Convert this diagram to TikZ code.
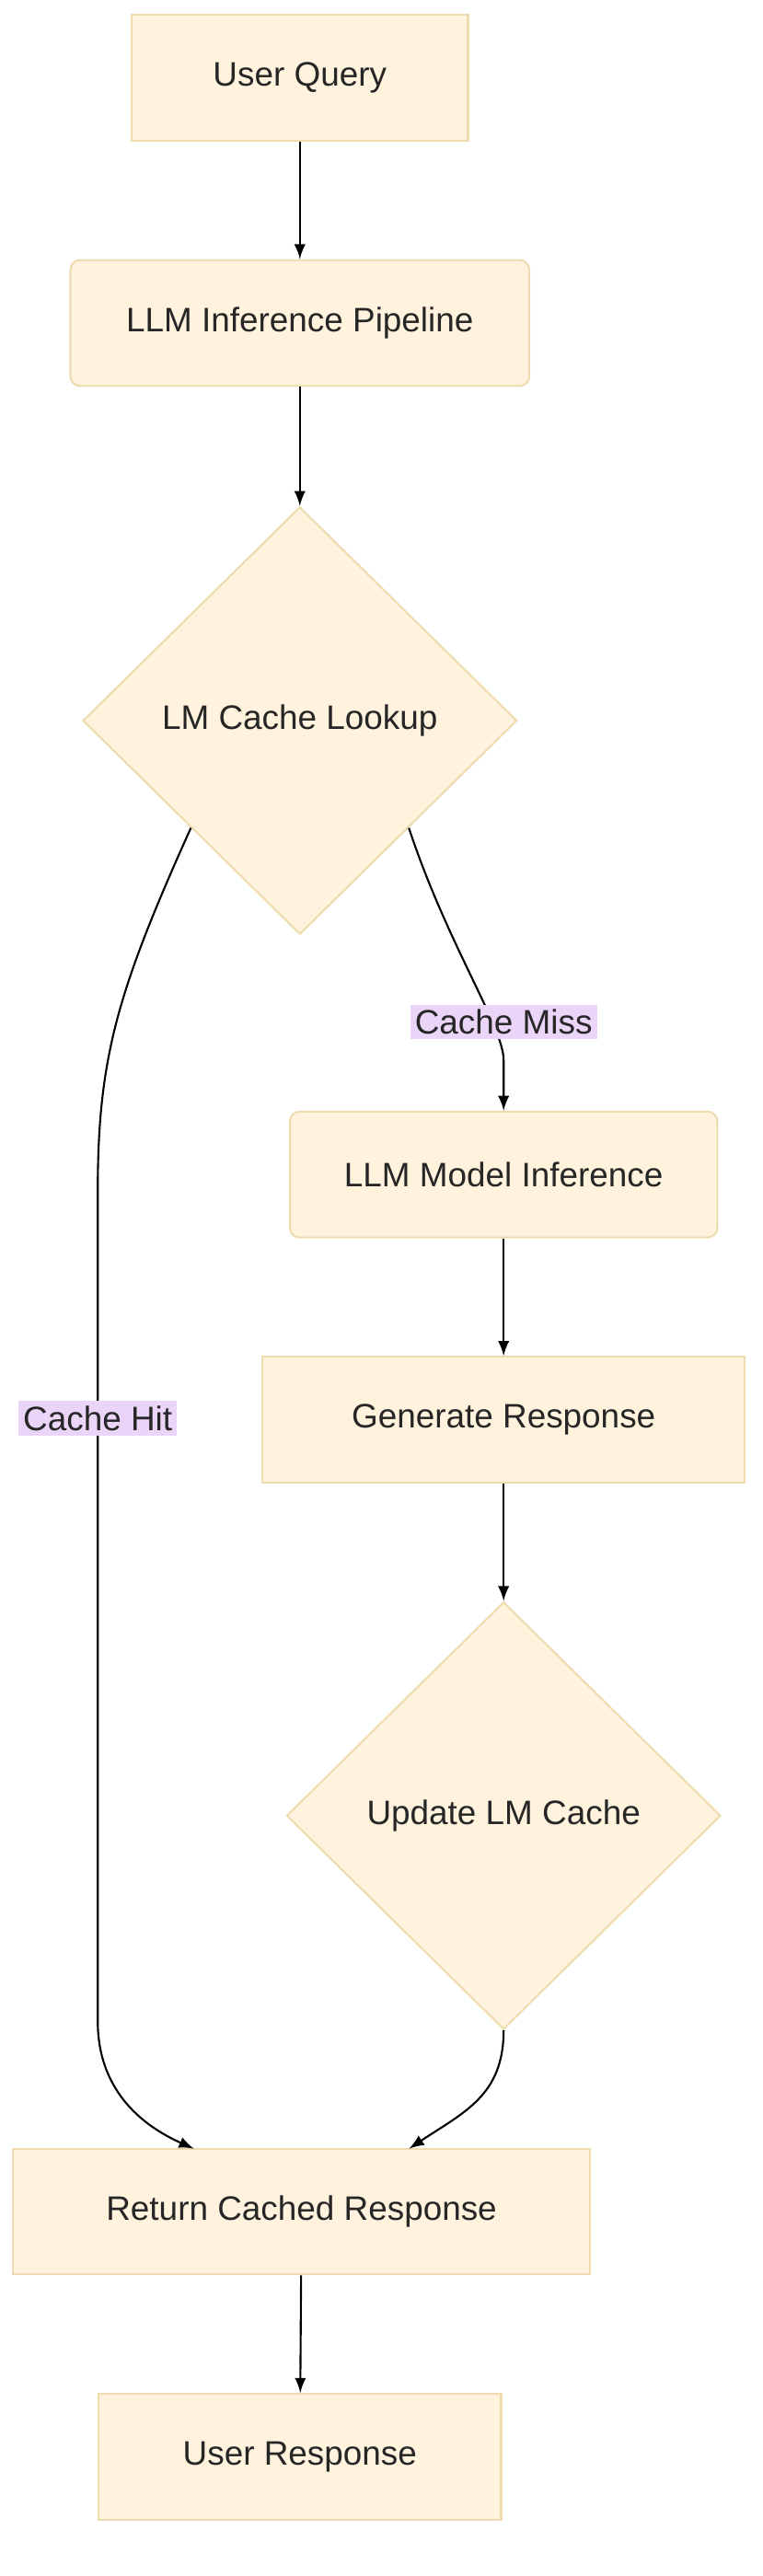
\documentclass[tikz,border=0pt]{standalone}
\usepackage{fontspec}
\setmainfont{Liberation Sans}
\usetikzlibrary{shapes.geometric}
\definecolor{boxfill}{HTML}{FFF3DE}
\definecolor{boxline}{HTML}{EEDCB0}
\definecolor{lblfill}{HTML}{EAD5F8}
\tikzset{
	box/.style={draw=boxline,fill=boxfill,line width=.6pt,minimum height=76*0.018cm,font=\fontsize{10.5}{12}\selectfont,text=black!85},
	rbox/.style={box,rounded corners=3pt},
	dia/.style={box,diamond,minimum width=262*0.018cm,minimum height=258*0.018cm,inner sep=0pt},
	lbl/.style={fill=lblfill,inner sep=1.5pt,font=\fontsize{10.5}{12}\selectfont,text=black!85},
	edge/.style={->,line width=.6pt,black}
}
\begin{document}
\begin{tikzpicture}[>=latex,x=0.018cm,y=-0.018cm]
	\useasboundingbox (0,0) rectangle (460,1555);
	\node[box,minimum width=203*0.018cm] (query) at (181,47) {User Query};
	\node[rbox,minimum width=277*0.018cm] (pipe) at (181,195) {LLM Inference Pipeline};
	\node[dia] (look) at (181,435) {LM Cache Lookup};
	\node[rbox,minimum width=258*0.018cm] (infer) at (304,709) {LLM Model Inference};
	\node[box,minimum width=291*0.018cm] (gen) at (304,857) {Generate Response};
	\node[dia] (upd) at (304,1096) {Update LM Cache};
	\node[box,minimum width=348*0.018cm] (ret) at (182,1335) {Return Cached Response};
	\node[box,minimum width=243*0.018cm] (resp) at (181,1483) {User Response};
	\coordinate (hitend) at (117,1297);
	\coordinate (updend) at (247,1297);
	
	\draw[edge] (query) -- (pipe);
	\draw[edge] (pipe) -- (look);
	\draw[edge] (look.south west) .. controls (70,600) and (59,640) .. (59,720) -- (59,1220) .. controls (59,1265) and (90,1285) .. (hitend);
	\draw[edge] (look.south east) .. controls (270,570) and (304,620) .. (304,640) -- (infer.north);
	\draw[edge] (infer) -- (gen);
	\draw[edge] (gen) -- (upd);
	\draw[edge] (upd.south) .. controls (304,1265) and (280,1275) .. (updend);
	\draw[edge] (ret) -- (resp);
	
	\node[lbl] (miss) at (304,617) {Cache Miss};
	\node[lbl] (hit) at (59,856) {Cache Hit};
\end{tikzpicture}
\end{document}
